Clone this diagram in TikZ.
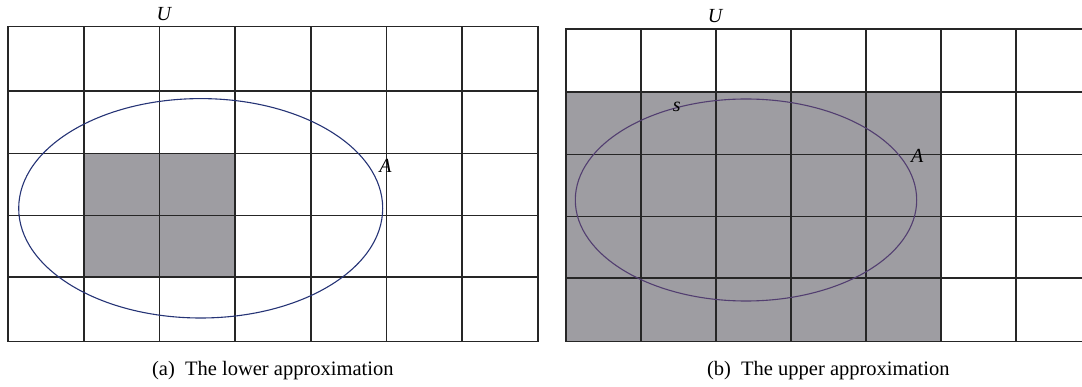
\documentclass[tikz,border=0pt]{standalone}
\usepackage{fontspec}
\setmainfont{Liberation Serif}
\usepackage{tikz}
\usetikzlibrary{positioning}
\definecolor{gridgray}{RGB}{38,38,38}
\definecolor{cellfill}{RGB}{158,157,162}
\definecolor{setblue}{RGB}{38,52,118}
\definecolor{setpurple}{RGB}{82,62,112}

\begin{document}
\begin{tikzpicture}[x=1pt, y=-1pt,
    gridline/.style={draw=gridgray, line width=1.6pt},
    shaded/.style={fill=cellfill},
    setline/.style={line width=1.1pt},
    lbl/.style={font=\fontsize{20}{20}\selectfont\itshape, inner sep=0pt},
    caption/.style={font=\fontsize{20.5}{22}\selectfont, inner sep=0pt}
]
\useasboundingbox (0,0) rectangle (1082,387);
\clip (0,0) rectangle (1082,387);

% Shaded cells
\fill[shaded] (83.7,153.7) rectangle (235,277.3);
\fill[shaded] (565.7,92.3) rectangle (940.7,341.7);

% Grid (a)
\draw[gridline] (8,26.7) rectangle (537.7,341.7);
\foreach \x in {83.7,159.3,235,310.7,386.3,462}
    \draw[gridline] (\x,26.7) -- (\x,341.7);
\foreach \y in {91.3,153.7,215.7,277.3}
    \draw[gridline] (8,\y) -- (537.7,\y);

% Grid (b)
\draw[gridline] (565.7,29) rectangle (1090.7,341.7);
\foreach \x in {640.7,715.7,790.7,865.7,940.7,1015.7}
    \draw[gridline] (\x,29) -- (\x,341.7);
\foreach \y in {92.3,154.7,216.7,278}
    \draw[gridline] (565.7,\y) -- (1090.7,\y);

% Sets
\draw[setline, draw=setblue] (200.7,208.3) ellipse [x radius=182, y radius=109.7];
\draw[setline, draw=setpurple] (746,200) ellipse [x radius=170.7, y radius=101];

% Labels
\node[lbl] (ua) at (163.8,14.5) {U};
\node[lbl] (aa) at (385.5,165.5) {A};
\node[lbl] (ub) at (715,16.5) {U};
\node[lbl] (sb) at (676.7,107) {s};
\node[lbl] (ab) at (917.3,156) {A};

% Captions
\node[caption] (capa) at (272.8,371) {(a)~~The lower approximation};
\node[caption] (capb) at (828.3,371) {(b)~~The upper approximation};
\end{tikzpicture}
\end{document}
